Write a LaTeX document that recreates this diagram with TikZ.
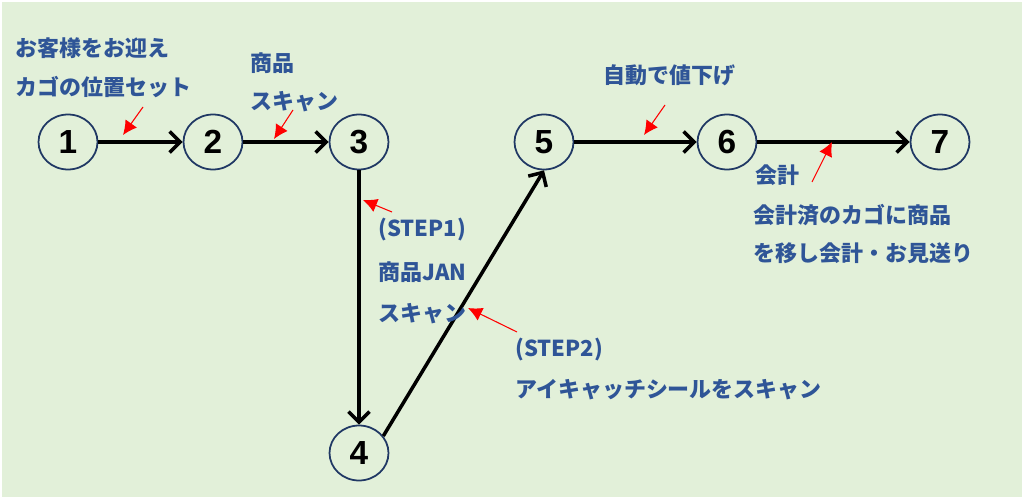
\documentclass[tikz,border=0pt]{standalone}
\usepackage{fontspec}
\setsansfont{Liberation Sans}
\newfontfamily\jpfont{Noto Sans CJK JP}
\usetikzlibrary{shapes.geometric,arrows.meta}

\definecolor{bggreen}{HTML}{E2F0D9}
\definecolor{txtblue}{HTML}{2F5597}
\definecolor{rimblue}{HTML}{203864}

\tikzset{
  station/.style={ellipse, draw=rimblue, line width=1pt, fill=bggreen,
    minimum width=1.18cm, minimum height=1.1cm, inner sep=0pt,
    font=\sffamily\bfseries\fontsize{19}{19}\selectfont},
  flow/.style={line width=2pt, -{Straight Barb[length=6pt,width=12pt]}},
  pointer/.style={red, line width=0.6pt, -{Latex[length=8pt,width=8pt]}},
  note/.style={anchor=west, inner sep=0pt, text=txtblue,
    font=\jpfont\bfseries\fontsize{12.5}{14}\selectfont}
}

\begin{document}
\begin{tikzpicture}[x=0.02cm, y=-0.02cm]
    % Background
    \useasboundingbox (0,0) rectangle (1024,500);
    \fill[white] (0,0) rectangle (1024,500);
    \fill[bggreen] (2,2) rectangle (1022,497);

    % Steps
    \foreach \n/\x/\y in {1/68/142, 2/213/142, 3/359/142, 4/359/453, 5/544/142, 6/727/142, 7/940/142} {
        \node[station] (s\n) at (\x,\y) {\n};
    }

    % Flow between steps
    \draw[flow] (s1) -- (s2);
    \draw[flow] (s2) -- (s3);
    \draw[flow] (s3) -- (s4);
    \draw[flow] (s4.35) -- (s5.south);
    \draw[flow] (s5) -- (s6);
    \draw[flow] (s6) -- (s7);

    % Notes
    \node[note] (n1a) at (15,48) {お客様をお迎え};
    \node[note] (n1b) at (15,87) {カゴの位置セット};
    \node[note] (n2a) at (250,63) {商品};
    \node[note] (n2b) at (250,102) {スキャン};
    \node[note] (n3a) at (378,230) {(STEP1)};
    \node[note] (n3b) at (378,272) {商品JAN};
    \node[note] (n3c) at (378,314) {スキャン};
    \node[note] (n4a) at (515,350) {(STEP2)};
    \node[note] (n4b) at (515,390) {アイキャッチシールをスキャン};
    \node[note] (n5a) at (603,75) {自動で値下げ};
    \node[note] (n6a) at (755,175) {会計};
    \node[note] (n6b) at (753,215) {会計済のカゴに商品};
    \node[note] (n6c) at (753,253) {を移し会計・お見送り};

    % Pointers
    \foreach \i/\sx/\sy/\ex/\ey in {1/143/107/123/135, 2/293/110/274/139, 3/392/212/363/200,
                                    4/517/332/468/308, 5/665/105/644/135, 6/812/182/832/142} {
        \coordinate (p\i-a) at (\sx,\sy);
        \coordinate (p\i-b) at (\ex,\ey);
        \draw[pointer] (p\i-a) -- (p\i-b);
    }
\end{tikzpicture}
\end{document}
